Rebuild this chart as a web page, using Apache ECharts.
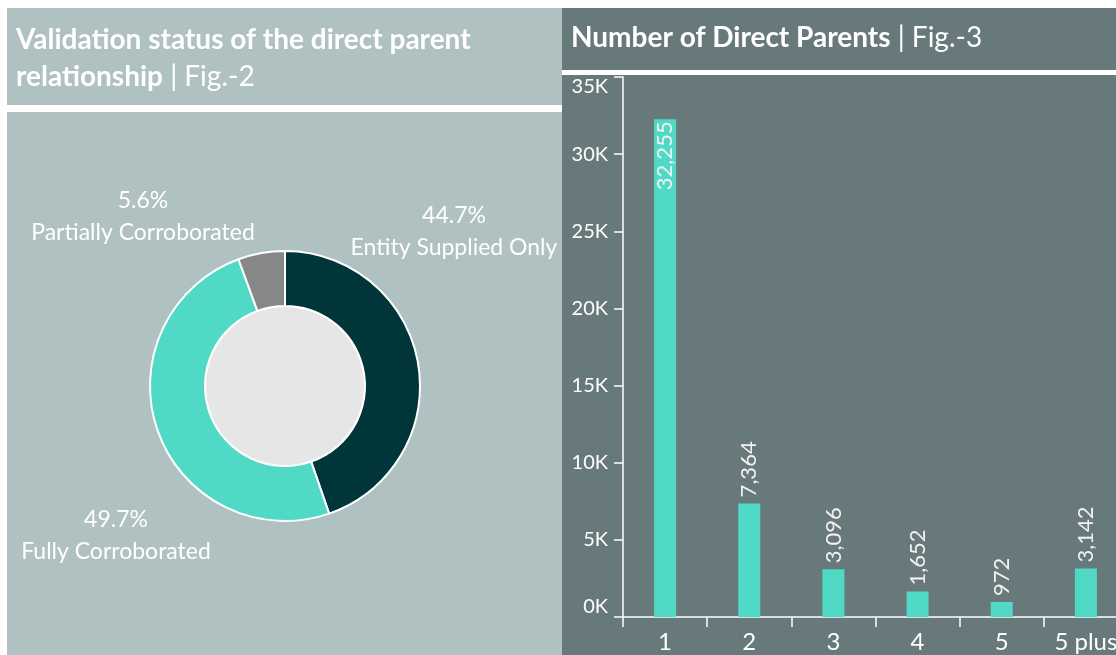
<!DOCTYPE html>
<html>
<head>
<meta charset="utf-8">
<script src="https://cdn.jsdelivr.net/npm/echarts@6/dist/echarts.min.js"></script>
<style>
  html, body { margin: 0; padding: 0; background: #ffffff; }
  #main { width: 1116px; height: 655px; }
</style>
</head>
<body>
<div id="main"></div>
<script>
// pie data (Fig.-2)
var pieNames = ['Entity Supplied Only', 'Fully Corroborated', 'Partially Corroborated'];
var pieValues = [44.7, 49.7, 5.6];
var pieColors = ['#00353a', '#50dac6', '#878787'];

// bar data (Fig.-3)
var barCats = ['1', '2', '3', '4', '5', '5 plus'];
var barValues = [32255, 7364, 3096, 1652, 972, 3142];
var yTicks = [0, 5000, 10000, 15000, 20000, 25000, 30000, 35000];

var FONT = 'Lato, "DejaVu Sans", sans-serif';
var PIE_CENTER = [285, 386];
var labelPos = [[454, 232], [116, 536], [143, 217]];

var chart = echarts.init(document.getElementById('main'), null, { renderer: 'canvas' });

var pieData = pieNames.map(function (n, i) {
  return { name: n, value: pieValues[i], itemStyle: { color: pieColors[i] } };
});

var barData = barValues.map(function (v, i) {
  if (i === 0) {
    // tallest bar keeps its label inside
    return {
      value: v,
      label: { position: 'insideTop', rotate: 90, align: 'right', verticalAlign: 'middle', distance: 2 }
    };
  }
  return v;
});

var option = {
  backgroundColor: '#ffffff',
  textStyle: { fontFamily: FONT },
  graphic: [
    { type: 'rect', z: -10, shape: { x: 7, y: 8, width: 556, height: 647 }, style: { fill: '#b0c1c1' } },
    { type: 'rect', z: -9, shape: { x: 7, y: 105, width: 556, height: 7 }, style: { fill: '#ffffff' } },
    { type: 'rect', z: -8, shape: { x: 562, y: 8, width: 554, height: 647 }, style: { fill: '#68797c' } },
    { type: 'rect', z: -7, shape: { x: 562, y: 70, width: 554, height: 5 }, style: { fill: '#ffffff' } }
  ],
  title: [
    {
      left: 16, top: 21, padding: 0,
      text: '{b|Validation status of the direct parent}\n{b|relationship}{r| | Fig.-2}',
      textStyle: {
        rich: {
          b: { fontFamily: FONT, fontWeight: 'bold', fontSize: 28, color: '#ffffff', lineHeight: 37 },
          r: { fontFamily: FONT, fontWeight: 'normal', fontSize: 28, color: '#ffffff', lineHeight: 37 }
        }
      }
    },
    {
      left: 571, top: 20, padding: 0,
      text: '{b|Number of Direct Parents}{r| | Fig.-3}',
      textStyle: {
        rich: {
          b: { fontFamily: FONT, fontWeight: 'bold', fontSize: 28, color: '#ffffff', lineHeight: 36 },
          r: { fontFamily: FONT, fontWeight: 'normal', fontSize: 28, color: '#ffffff', lineHeight: 36 }
        }
      }
    }
  ],
  grid: { left: 623, top: 77, width: 505, bottom: 38, containLabel: false, outerBoundsMode: 'none' },
  xAxis: {
    type: 'category',
    data: barCats,
    axisLine: { lineStyle: { color: '#ffffff', width: 1.5 } },
    axisTick: { show: true, length: 10, lineStyle: { color: '#ffffff', width: 1.5 } },
    axisLabel: { color: '#ffffff', fontSize: 24, margin: 13, fontFamily: FONT }
  },
  yAxis: {
    type: 'value',
    min: 0, max: 35000, interval: 5000,
    axisLine: { show: true, lineStyle: { color: '#ffffff', width: 1.5 } },
    axisTick: { show: true, length: 9, lineStyle: { color: '#ffffff', width: 1.5 } },
    splitLine: { show: false },
    axisLabel: {
      color: '#ffffff', fontSize: 20, margin: 15, fontFamily: FONT,
      verticalAlignMinLabel: 'bottom', verticalAlignMaxLabel: 'top',
      formatter: function (v) { return (v / 1000) + 'K'; }
    }
  },
  series: [
    {
      type: 'pie',
      center: PIE_CENTER,
      radius: [0, 80],
      silent: true,
      label: { show: false },
      labelLine: { show: false },
      itemStyle: { color: '#e6e6e6', borderColor: '#ffffff', borderWidth: 2 },
      data: [{ value: 1, name: '' }],
      z: 1
    },
    {
      type: 'pie',
      center: PIE_CENTER,
      radius: [80, 135],
      startAngle: 90,
      clockwise: true,
      avoidLabelOverlap: false,
      itemStyle: { borderColor: '#ffffff', borderWidth: 2 },
      label: {
        show: true,
        position: 'outside',
        color: '#ffffff',
        fontSize: 23,
        lineHeight: 32,
        fontFamily: FONT,
        formatter: function (p) { return p.value.toFixed(1) + '%\n' + p.name; }
      },
      labelLine: { show: false },
      labelLayout: function (p) {
        var pos = labelPos[p.dataIndex];
        return { x: pos[0], y: pos[1], align: 'center', verticalAlign: 'middle' };
      },
      data: pieData,
      z: 3
    },
    {
      type: 'bar',
      data: barData,
      barWidth: 22,
      itemStyle: { color: '#50dac6' },
      label: {
        show: true,
        position: 'top',
        rotate: 90,
        align: 'left',
        verticalAlign: 'middle',
        distance: 6,
        color: '#f2f2f2',
        fontSize: 22,
        fontFamily: FONT,
        formatter: function (p) { return p.value.toLocaleString('en-US'); }
      }
    }
  ]
};

chart.setOption(option);
</script>
</body>
</html>
